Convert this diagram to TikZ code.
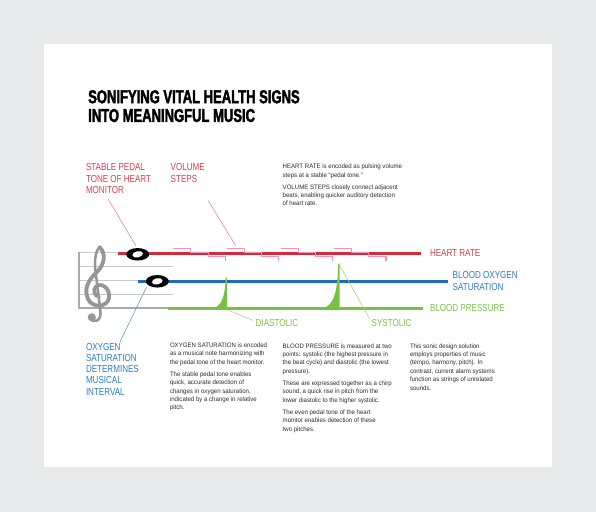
\documentclass[tikz,border=0pt]{standalone}
\usepackage{fontspec}
\setmainfont{Liberation Sans}
\newfontfamily\titlefont{Liberation Sans}[FakeStretch=0.70, BoldFeatures={FakeBold=2}]
\newfontfamily\labfont{Liberation Sans}[FakeStretch=0.79]
\newfontfamily\bodyfont{Liberation Sans}[FakeStretch=0.95]
\usetikzlibrary{shapes.geometric}
\definecolor{bg}{RGB}{232,233,234}
\definecolor{hrred}{RGB}{214,43,58}
\definecolor{redtxt}{RGB}{221,62,76}
\definecolor{redlead}{RGB}{231,120,128}
\definecolor{oxblue}{RGB}{30,108,181}
\definecolor{bluetxt}{RGB}{42,125,198}
\definecolor{bluelead}{RGB}{74,144,208}
\definecolor{bpgreen}{RGB}{122,193,67}
\definecolor{greentxt}{RGB}{124,194,74}
\definecolor{greenlead}{RGB}{158,208,111}
\definecolor{pinkstep}{RGB}{243,146,186}
\definecolor{clefgray}{RGB}{150,150,150}
\definecolor{staffgray}{RGB}{200,200,200}
\definecolor{bodytxt}{RGB}{45,45,45}
\begin{document}
\begin{tikzpicture}[x=1pt,y=-1pt,
  lab/.style={inner sep=0pt, outer sep=0pt, anchor=north west, align=left,
    font=\labfont\fontsize{10.2pt}{11.3pt}\selectfont},
  sidelab/.style={inner sep=0pt, outer sep=0pt, anchor=west,
    font=\labfont\fontsize{10.2pt}{11.3pt}\selectfont},
  body/.style={inner sep=0pt, outer sep=0pt, anchor=north west, align=left,
    text=bodytxt, font=\bodyfont\fontsize{6.4pt}{8.4pt}\selectfont},
  wholenote/.style={ellipse, fill=black, minimum width=23pt, minimum height=12.5pt,
    inner sep=0pt, path picture={\fill[white] (path picture bounding box.center)
      ellipse [x radius=5.4pt, y radius=3.1pt, rotate=12];}},
  lead/.style={line width=0.5pt},
  staffline/.style={staffgray, line width=0.9pt},
  stepline/.style={pinkstep, line width=1.1pt},
]
\useasboundingbox (0,0) rectangle (596,512);
\fill[bg] (0,0) rectangle (596,512);
\fill[black!8] (45,46) rectangle (553,469);
\fill[white] (44,44) rectangle (552,467);

% title
\node[inner sep=0pt, anchor=north west, align=left,
  font=\titlefont\bfseries\fontsize{18.6pt}{18.7pt}\selectfont] (title) at (88,90)
  {SONIFYING VITAL HEALTH SIGNS\\INTO MEANINGFUL MUSIC};

% staff
\draw[staffline] (78.3,252.7) -- (173,252.7);
\draw[staffline] (78.3,266.7) -- (173,266.7);
\draw[staffline] (78.3,280.7) -- (173,280.7);
\draw[staffline] (78.3,294.3) -- (173,294.3);
\draw[clefgray!80, line width=2pt] (78.3,308.3) -- (168.5,308.3);
\draw[clefgray!80, line width=2pt] (79,252.2) -- (79,309.3);

% treble clef
\draw[clefgray, line width=3.8pt, line cap=round]
  (99.5,247) .. controls (106,253) and (105,264) .. (97,272)
  .. controls (87,281) and (84,290) .. (88,299)
  .. controls (92,308) and (107,308) .. (109,298)
  .. controls (110.5,288) and (101,282) .. (96,286.5)
  .. controls (92.5,290) and (94.5,296.5) .. (99,296.5);
\draw[clefgray, line width=2.5pt, line cap=round]
  (99.5,247) .. controls (95,252) and (94,262) .. (96,275)
  -- (100.5,312) .. controls (101.5,321) and (93,324) .. (90.5,318);
\fill[clefgray] (91.8,317.3) circle (4.1pt);

% main lines
\draw[hrred, line width=2.8pt] (117.7,253.7) -- (421,253.7);
\draw[oxblue, line width=2.5pt] (137.7,281.3) -- (448.3,281.3);
\draw[bpgreen, line width=2.7pt] (168.3,308.3) -- (422.7,308.3);

% volume steps
\foreach \x in {173.3,226.7,280.7,334} {
  \draw[stepline] (\x,248.7) -- (\x+17.6,248.7) -- (\x+17.6,252.6) -- (\x+34.8,252.6)
    -- (\x+34.8,256.6) -- (\x+52,256.6) -- (\x+52,261.3);
}

% blood pressure peaks
\fill[bpgreen] (212,308.3) .. controls (221.5,307) and (225,297) .. (225.7,277.7)
  -- (227,277.7) -- (227,308.3) -- cycle;
\fill[bpgreen] (322,308.3) .. controls (334,306.5) and (337.6,291) .. (338.3,263.5)
  -- (339.6,263.5) -- (339.6,308.3) -- cycle;

% notes
\node[wholenote] (n1) at (137.7,254.3) {};
\node[wholenote] (n2) at (157.3,281.3) {};

% labels
\node[lab, text=redtxt] (stable) at (86,163.7) {STABLE PEDAL\\TONE OF HEART\\MONITOR};
\node[lab, text=redtxt] (volume) at (170.7,163.7) {VOLUME\\STEPS};
\node[sidelab, text=redtxt] (hrlab) at (430,253.3) {HEART RATE};
\node[lab, text=bluetxt, font=\labfont\fontsize{10.2pt}{11.6pt}\selectfont] (oxlab) at (452.7,271.3) {BLOOD OXYGEN\\SATURATION};
\node[sidelab, text=greentxt] (bplab) at (430,308.3) {BLOOD PRESSURE};
\node[sidelab, text=greentxt] (dia) at (255.7,323.3) {DIASTOLIC};
\node[sidelab, text=greentxt] (sys) at (371.7,323.3) {SYSTOLIC};
\node[lab, text=bluetxt, font=\labfont\fontsize{10.2pt}{11.25pt}\selectfont] (oxint) at (86,343) {OXYGEN\\SATURATION\\DETERMINES\\MUSICAL\\INTERVAL};

% leader ends
\coordinate (sA) at (108.3,199.3); \coordinate (sB) at (136,246);
\coordinate (vA) at (208.3,200.7); \coordinate (vB) at (235.7,245.7);
\coordinate (oA) at (120,341.7);   \coordinate (oB) at (146.7,286.7);
\coordinate (dA) at (226.7,309.5); \coordinate (dB) at (253.3,320.5);
\coordinate (yA) at (339,264);     \coordinate (yB) at (370,319.5);
\draw[lead, redlead] (sA) -- (sB);
\draw[lead, redlead] (vA) -- (vB);
\draw[lead, bluelead] (oA) -- (oB);
\draw[lead, greenlead] (dA) -- (dB);
\draw[lead, greenlead] (yA) -- (yB);

% body texts
\node[body] (hrtext) at (282.7,164) {HEART RATE is encoded as pulsing volume\\steps at a stable “pedal tone.”\\[3.7pt]VOLUME STEPS closely connect adjacent\\beats, enabling quicker auditory detection\\of heart rate.};
\node[body] (oxtext) at (170,342.7) {OXYGEN SATURATION is encoded\\as a musical note harmonizing with\\the pedal tone of the heart monitor.\\[3.7pt]The stable pedal tone enables\\quick, accurate detection of\\changes in oxygen saturation,\\indicated by a change in relative\\pitch.};
\node[body] (bptext) at (282.7,343.4) {BLOOD PRESSURE is measured at two\\points: systolic (the highest pressure in\\the beat cycle) and diastolic (the lowest\\pressure).\\[3.7pt]These are expressed together as a chirp\\sound, a quick rise in pitch from the\\lower diastolic to the higher systolic.\\[3.7pt]The even pedal tone of the heart\\monitor enables detection of these\\two pitches.};
\node[body] (sonic) at (410,343.4) {This sonic design solution\\employs properties of music\\(tempo, harmony, pitch). In\\contrast, current alarm systems\\function as strings of unrelated\\sounds.};
\end{tikzpicture}
\end{document}
